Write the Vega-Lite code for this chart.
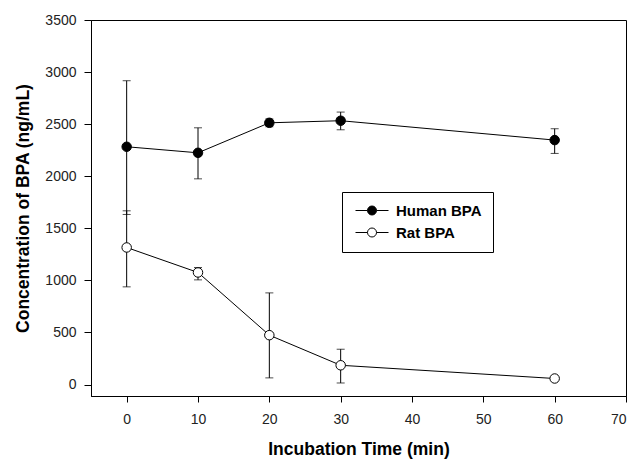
{
  "$schema": "https://vega.github.io/schema/vega-lite/v6.json",
  "width": 535,
  "height": 376,
  "autosize": {"type": "none"},
  "padding": {"left": 91, "top": 20, "right": 10, "bottom": 63},
  "background": "white",
  "config": {
    "font": "Liberation Sans",
    "view": {"stroke": "black", "strokeWidth": 1},
    "axis": {
      "grid": false,
      "domainColor": "black",
      "tickColor": "black",
      "labelColor": "#222222",
      "labelFontSize": 14,
      "titleFontSize": 17.5,
      "titleFontWeight": "bold",
      "titleColor": "black"
    }
  },
  "data": {
    "values": [
      {"series": "Human BPA", "time": 0, "mean": 2283, "lo": 1633, "hi": 2917},
      {"series": "Human BPA", "time": 10, "mean": 2225, "lo": 1975, "hi": 2465},
      {"series": "Human BPA", "time": 20, "mean": 2513, "lo": 2475, "hi": 2550},
      {"series": "Human BPA", "time": 30, "mean": 2533, "lo": 2446, "hi": 2616},
      {"series": "Human BPA", "time": 60, "mean": 2347, "lo": 2219, "hi": 2456},
      {"series": "Rat BPA", "time": 0, "mean": 1316, "lo": 938, "hi": 1668},
      {"series": "Rat BPA", "time": 10, "mean": 1076, "lo": 1005, "hi": 1124},
      {"series": "Rat BPA", "time": 20, "mean": 474, "lo": 64, "hi": 880},
      {"series": "Rat BPA", "time": 30, "mean": 185, "lo": 15, "hi": 339},
      {"series": "Rat BPA", "time": 60, "mean": 58}
    ]
  },
  "encoding": {
    "x": {
      "field": "time",
      "type": "quantitative",
      "scale": {"domain": [-5, 70], "nice": false, "zero": false},
      "axis": {
        "title": "Incubation Time (min)",
        "values": [0, 10, 20, 30, 40, 50, 60, 70],
        "format": "d",
        "tickSize": 6,
        "labelPadding": 10,
        "titlePadding": 14
      }
    }
  },
  "layer": [
    {
      "transform": [{"filter": "isValid(datum.lo)"}],
      "mark": {"type": "rule", "color": "black", "strokeWidth": 1},
      "encoding": {
        "y": {"field": "lo", "type": "quantitative"},
        "y2": {"field": "hi"}
      }
    },
    {
      "transform": [{"filter": "isValid(datum.lo)"}],
      "mark": {"type": "tick", "orient": "horizontal", "color": "black", "size": 8, "thickness": 1},
      "encoding": {
        "y": {"field": "lo", "type": "quantitative"}
      }
    },
    {
      "transform": [{"filter": "isValid(datum.lo)"}],
      "mark": {"type": "tick", "orient": "horizontal", "color": "black", "size": 8, "thickness": 1},
      "encoding": {
        "y": {"field": "hi", "type": "quantitative"}
      }
    },
    {
      "mark": {"type": "line", "color": "black", "strokeWidth": 1},
      "encoding": {
        "y": {"field": "mean", "type": "quantitative"},
        "detail": {"field": "series"}
      }
    },
    {
      "mark": {"type": "point", "shape": "circle", "filled": false, "stroke": "black", "strokeWidth": 1, "size": 90, "opacity": 1},
      "encoding": {
        "y": {
          "field": "mean",
          "type": "quantitative",
          "scale": {"domain": [-110, 3500], "nice": false, "zero": false},
          "axis": {
            "title": "Concentration of BPA (ng/mL)",
            "values": [0, 500, 1000, 1500, 2000, 2500, 3000, 3500],
            "format": "d",
            "tickSize": 7,
            "labelPadding": 8,
            "titlePadding": 12
          }
        },
        "fill": {
          "field": "series",
          "type": "nominal",
          "scale": {"domain": ["Human BPA", "Rat BPA"], "range": ["black", "white"]},
          "legend": {
            "title": null,
            "orient": "none",
            "legendX": 251,
            "legendY": 172,
            "direction": "vertical",
            "padding": 11,
            "strokeColor": "black",
            "fillColor": "white",
            "symbolType": "M1.4,0A0.9,0.9 0 1,1 3.2,0A0.9,0.9 0 1,1 1.4,0ZM-1,0H1.4M3.2,0H5.6",
            "symbolSize": 100,
            "symbolStrokeColor": "black",
            "symbolStrokeWidth": 1,
            "symbolOpacity": 1,
            "labelFontSize": 15,
            "labelFontWeight": "bold",
            "labelColor": "black",
            "labelOffset": 28,
            "rowPadding": 6,
            "labelLimit": 300
          }
        }
      }
    }
  ]
}
